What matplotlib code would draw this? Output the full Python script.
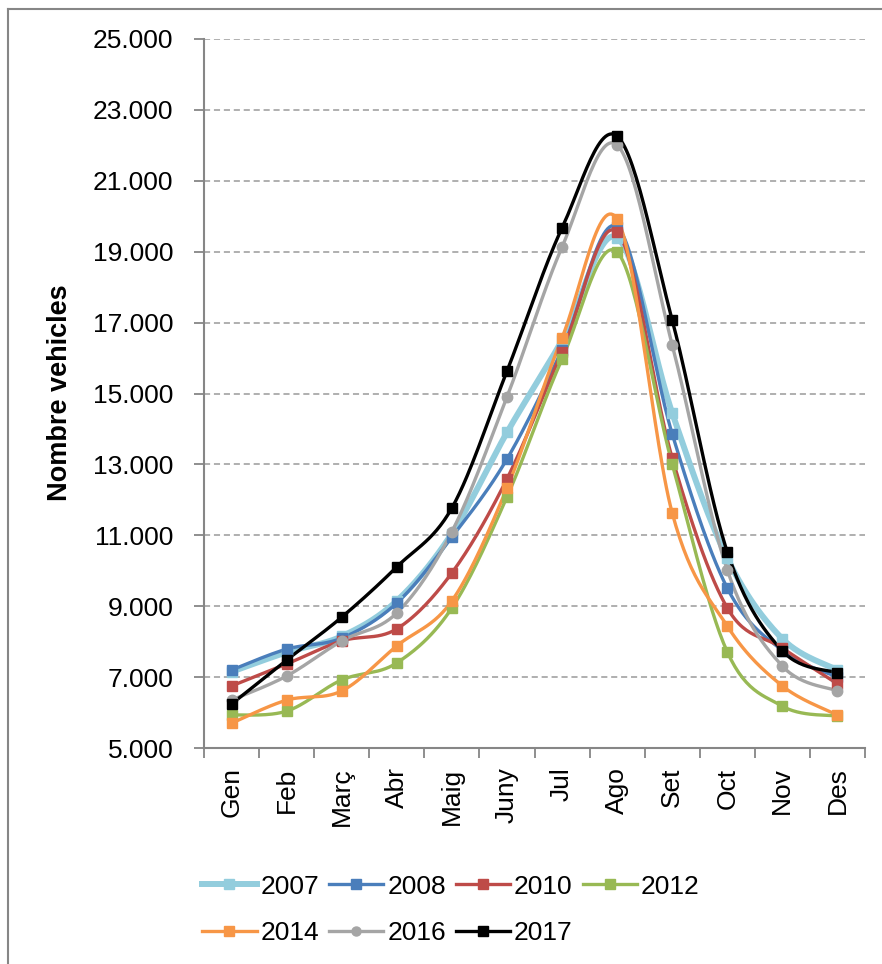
import matplotlib
matplotlib.use("Agg")
import matplotlib.pyplot as plt
import numpy as np
from matplotlib.lines import Line2D
from matplotlib.ticker import FuncFormatter, FixedLocator

plt.rcParams['font.family'] = ['Liberation Sans', 'DejaVu Sans']

#--------------------------------------------------------------------------
# Data (vehicles per month)
#--------------------------------------------------------------------------
months = ['Gen', 'Feb', 'Març', 'Abr', 'Maig', 'Juny', 'Jul', 'Ago', 'Set', 'Oct', 'Nov', 'Des']

v2007 = [7150, 7700, 8150, 9150, 11050, 13900, 16500, 19400, 14450, 10350, 8080, 7200]
v2008 = [7200, 7790, 8100, 9090, 10950, 13150, 16230, 19700, 13860, 9510, 7750, 7000]
v2010 = [6750, 7370, 8020, 8360, 9940, 12590, 16170, 19560, 13180, 8950, 7820, 6810]
v2012 = [5930, 6040, 6920, 7400, 8950, 12080, 15970, 18990, 13010, 7710, 6180, 5900]
v2014 = [5700, 6350, 6610, 7880, 9150, 12330, 16570, 19920, 11630, 8440, 6750, 5930]
v2016 = [6350, 7030, 8020, 8810, 11100, 14900, 19130, 22010, 16370, 10020, 7310, 6610]
v2017 = [6240, 7480, 8690, 10110, 11770, 15630, 19670, 22260, 17070, 10530, 7740, 7120]

series_names = ['2007', '2008', '2010', '2012', '2014', '2016', '2017']
series_vals = [v2007, v2008, v2010, v2012, v2014, v2016, v2017]
series_cols = ['#93CDDD', '#4A7EBB', '#BE4B48', '#98B954', '#F79646', '#A5A5A5', '#000000']
series_lw = [4.3, 2.4, 2.4, 2.4, 2.4, 2.4, 2.4]
series_mk = ['s', 's', 's', 's', 's', 'o', 's']

yticks = [5000, 7000, 9000, 11000, 13000, 15000, 17000, 19000, 21000, 23000, 25000]


# Excel-like smoothed line (bezier through points)
def smooth_line(x, y, n=30):
    x = np.asarray(x, float)
    y = np.asarray(y, float)
    px = np.concatenate([[x[0]], x, [x[-1]]])
    py = np.concatenate([[y[0]], y, [y[-1]]])
    xs, ys = [], []
    t = np.linspace(0, 1, n)
    for i in range(len(x) - 1):
        p0 = np.array([px[i + 1], py[i + 1]])
        p3 = np.array([px[i + 2], py[i + 2]])
        c1 = p0 + (p3 - np.array([px[i], py[i]])) / 6.0
        c2 = p3 - (np.array([px[i + 3], py[i + 3]]) - p0) / 6.0
        b = ((1 - t) ** 3)[:, None] * p0 + (3 * (1 - t) ** 2 * t)[:, None] * c1 \
            + (3 * (1 - t) * t ** 2)[:, None] * c2 + (t ** 3)[:, None] * p3
        xs.append(b[:, 0])
        ys.append(b[:, 1])
    return np.concatenate(xs), np.concatenate(ys)


#--------------------------------------------------------------------------
#                  Plotting Logic
#--------------------------------------------------------------------------
fig = plt.figure(figsize=(8.82, 9.64), dpi=100)
ax = fig.add_axes([204 / 882, 1 - 748 / 964, 661 / 882, 709 / 964])

xpos = np.arange(len(months))
handles = []
for name, vals, col, lw, mk in zip(series_names, series_vals, series_cols, series_lw, series_mk):
    sx, sy = smooth_line(xpos, vals)
    ax.plot(sx, sy, color=col, lw=lw, solid_capstyle='round', zorder=3)
    ax.plot(xpos, vals, ls='none', marker=mk, ms=7 if mk == 's' else 7.5,
            color=col, mec=col, zorder=4)
    handles.append(Line2D([0], [0], color=col, lw=lw, marker=mk, ms=6.5, mec=col))

ax.set_xlim(-0.5, len(months) - 0.5)
ax.set_ylim(5000, 25000)

ax.yaxis.set_major_locator(FixedLocator(yticks))
ax.yaxis.set_major_formatter(FuncFormatter(lambda v, p: '{:,.3f}'.format(v / 1000).replace(',', '')))
ax.yaxis.grid(True, color='#9A9A9A', lw=1.1, ls=(0, (4, 2.5)))
ax.set_axisbelow(True)

ax.set_xticks(xpos)
ax.set_xticklabels(months, rotation=90)
ax.set_xticks(np.arange(-0.5, len(months), 1), minor=True)
ax.tick_params(axis='x', which='major', length=0, pad=14, labelsize=19)
ax.tick_params(axis='x', which='minor', length=7, width=1.3, color='#868686')
ax.tick_params(axis='y', length=7, width=1.3, color='#868686', pad=15, labelsize=19)

for s in ['top', 'right']:
    ax.spines[s].set_visible(False)
for s in ['left', 'bottom']:
    ax.spines[s].set_color('#868686')
    ax.spines[s].set_linewidth(1.5)

fig.text(60 / 882, 1 - 393 / 964, 'Nombre vehicles', rotation=90, ha='center', va='center',
         fontsize=19.5, fontweight='bold')

# legend: row-major order (2007 2008 2010 2012 / 2014 2016 2017)
order = [0, 4, 1, 5, 2, 6, 3]
fig.legend([handles[i] for i in order], [series_names[i] for i in order],
           loc='center', bbox_to_anchor=(451 / 882, 1 - 910 / 964), ncol=4,
           frameon=False, fontsize=19, handlelength=2.05, handletextpad=0.15,
           columnspacing=0.38, labelspacing=0.86, borderpad=0)

# outer chart frame (partly cropped)
fig.add_artist(Line2D([8 / 882, 8 / 882], [0, 1 - 9 / 964], color='#868686', lw=1.5))
fig.add_artist(Line2D([8 / 882, 1], [1 - 9 / 964, 1 - 9 / 964], color='#868686', lw=1.5))

fig.savefig('out.png', dpi=100)
